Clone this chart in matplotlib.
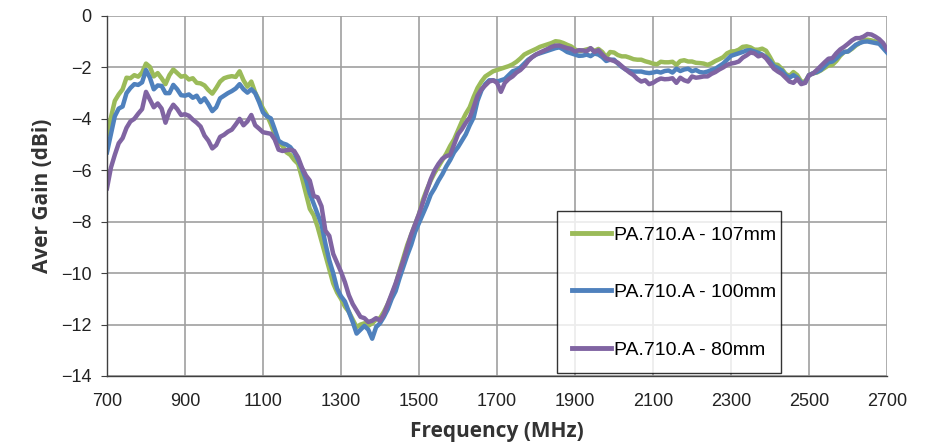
import matplotlib
matplotlib.use("Agg")
import matplotlib.pyplot as plt

freq = list(range(700, 2701, 10))

gain_107 = [
    # 700-1100
    -4.6, -3.95, -3.3, -3.05, -2.85, -2.4, -2.42, -2.3, -2.36, -2.2,
    -1.85, -1.98, -2.35, -2.22, -2.42, -2.65, -2.3, -2.08, -2.22, -2.36,
    -2.33, -2.47, -2.42, -2.6, -2.62, -2.7, -2.88, -3.02, -2.8, -2.55,
    -2.42, -2.37, -2.34, -2.37, -2.15, -2.5, -2.75, -2.55, -2.98, -3.28,
    -3.6,
    # 1110-1880
    -3.85, -4.2, -4.6, -4.9, -5.05, -5.3, -5.4, -5.6, -5.75, -6.3,
    -6.9, -7.5, -7.75, -8.2, -8.75, -9.3, -9.85, -10.4, -10.75, -11.0,
    -11.3, -11.5, -11.8, -12.1, -12.0, -11.95, -12.05, -11.95, -11.8, -11.75,
    -11.5, -11.2, -10.85, -10.45, -9.9, -9.4, -8.9, -8.5, -8.1, -7.7,
    -7.15, -6.75, -6.4, -6.1, -5.85, -5.6, -5.35, -5.05, -4.8, -4.45,
    -4.1, -3.8, -3.55, -3.15, -2.8, -2.55, -2.35, -2.25, -2.15, -2.1,
    -2.05, -2.0, -1.95, -1.88, -1.78, -1.65, -1.5, -1.42, -1.35, -1.28,
    -1.2, -1.15, -1.1, -1.05, -0.98, -1.0, -1.05, -1.12,
    # 1890-2300
    -1.18, -1.3, -1.37, -1.34, -1.3, -1.26, -1.36, -1.28, -1.4, -1.6,
    -1.4, -1.42, -1.52, -1.57, -1.57, -1.62, -1.68, -1.7, -1.7, -1.76,
    -1.8, -1.85, -1.88, -1.78, -1.8, -1.8, -1.78, -1.9, -1.75, -1.72,
    -1.77, -1.77, -1.82, -1.83, -1.85, -1.9, -1.84, -1.75, -1.68, -1.6,
    -1.45, -1.38,
    # 2310-2700
    -1.37, -1.31, -1.2, -1.18, -1.22, -1.31, -1.31, -1.27, -1.35, -1.6,
    -1.88, -1.9, -2.05, -2.25, -2.33, -2.18, -2.3, -2.55, -2.55, -2.3,
    -2.23, -2.2, -2.12, -2.02, -1.92, -1.9, -1.75, -1.55, -1.4, -1.38,
    -1.28, -1.15, -1.05, -0.95, -0.92, -0.95, -0.99, -0.99, -1.15, -1.3,
]

gain_100 = [
    # 700-1100
    -5.3, -4.6, -3.9, -3.6, -3.52, -3.0, -2.8, -2.65, -2.68, -2.58,
    -2.1, -2.4, -2.85, -2.7, -2.72, -3.0, -3.0, -2.68, -2.85, -3.08,
    -3.1, -3.05, -3.18, -3.1, -3.35, -3.2, -3.43, -3.7, -3.55, -3.2,
    -3.1, -3.0, -2.92, -2.82, -2.65, -2.85, -2.98, -2.85, -3.0, -3.35,
    -3.75,
    # 1110-1880
    -3.9, -3.98, -4.4, -4.85, -4.95, -5.0, -5.1, -5.3, -5.6, -5.95,
    -6.35, -6.9, -7.3, -7.7, -8.1, -8.85, -9.5, -10.0, -10.6, -10.9,
    -11.1, -11.5, -11.9, -12.35, -12.2, -12.05, -12.2, -12.55, -12.1, -11.95,
    -11.7, -11.4, -11.0, -10.7, -10.2, -9.75, -9.3, -8.9, -8.4, -8.05,
    -7.7, -7.35, -6.95, -6.7, -6.4, -6.15, -5.85, -5.6, -5.3, -5.1,
    -4.85, -4.6, -4.25, -3.95, -3.3, -2.9, -2.65, -2.5, -2.5, -2.55,
    -2.5, -2.45, -2.3, -2.15, -2.1, -2.0, -1.85, -1.7, -1.6, -1.5,
    -1.45, -1.4, -1.35, -1.3, -1.25, -1.22, -1.3, -1.4,
    # 1890-2300
    -1.45, -1.5, -1.55, -1.54, -1.5, -1.56, -1.46, -1.5, -1.6, -1.75,
    -1.7, -1.7, -1.85, -1.98, -2.08, -2.14, -2.16, -2.16, -2.16, -2.2,
    -2.22, -2.2, -2.16, -2.2, -2.14, -2.12, -2.2, -2.05, -2.14, -2.08,
    -2.05, -2.15, -2.1, -2.18, -2.2, -2.16, -2.1, -2.05, -1.95, -1.85,
    -1.7, -1.55,
    # 2310-2700
    -1.5, -1.45, -1.4, -1.34, -1.33, -1.38, -1.43, -1.5, -1.6, -1.75,
    -1.95, -2.02, -2.12, -2.3, -2.4, -2.3, -2.4, -2.6, -2.6, -2.3,
    -2.23, -2.18, -2.1, -1.95, -1.8, -1.77, -1.65, -1.5, -1.4, -1.38,
    -1.25, -1.12, -1.05, -1.0, -0.99, -1.02, -1.05, -1.08, -1.25, -1.42,
]

gain_80 = [
    # 700-1100
    -6.7, -5.9, -5.4, -4.95, -4.75, -4.35, -4.1, -4.0, -3.8, -3.62,
    -2.95, -3.25, -3.55, -3.4, -3.6, -4.15, -3.7, -3.45, -3.62, -3.85,
    -3.82, -3.88, -4.03, -4.15, -4.3, -4.65, -4.85, -5.15, -5.02, -4.7,
    -4.62, -4.5, -4.42, -4.22, -4.0, -4.25, -4.1, -3.85, -4.25, -4.38,
    -4.52,
    # 1110-1880
    -4.55, -4.58, -4.8, -5.2, -5.25, -5.22, -5.2, -5.25, -5.5, -5.9,
    -6.2, -6.4, -7.0, -7.05, -7.4, -8.35, -8.55, -9.25, -9.6, -9.95,
    -10.35, -10.85, -11.2, -11.45, -11.7, -11.75, -11.9, -11.85, -11.75, -11.85,
    -11.6, -11.2, -10.8, -10.4, -9.95, -9.5, -9.0, -8.5, -8.1, -7.7,
    -7.25, -6.8, -6.35, -6.0, -5.75, -5.55, -5.45, -5.4, -5.0, -4.6,
    -4.4, -4.15, -3.95, -3.55, -3.1, -2.85, -2.7, -2.55, -2.5, -2.6,
    -2.95, -2.6, -2.45, -2.35, -2.2, -2.1, -1.95, -1.75, -1.6, -1.5,
    -1.42, -1.35, -1.28, -1.2, -1.15, -1.15, -1.2, -1.25,
    # 1890-2300
    -1.28, -1.38, -1.33, -1.34, -1.37, -1.25, -1.4, -1.33, -1.5, -1.65,
    -1.7, -1.75, -1.82, -1.95, -2.08, -2.2, -2.3, -2.45, -2.55, -2.5,
    -2.65, -2.6, -2.5, -2.43, -2.46, -2.45, -2.42, -2.6, -2.4, -2.5,
    -2.55, -2.35, -2.4, -2.38, -2.35, -2.35, -2.25, -2.18, -2.08, -2.0,
    -1.9, -1.85,
    # 2310-2700
    -1.82, -1.77, -1.62, -1.53, -1.42, -1.45, -1.57, -1.52, -1.65, -1.85,
    -2.05, -2.16, -2.25, -2.4, -2.55, -2.6, -2.45, -2.65, -2.6, -2.3,
    -2.24, -2.1, -1.95, -1.8, -1.66, -1.64, -1.45, -1.3, -1.2, -1.08,
    -0.95, -0.86, -0.86, -0.8, -0.7, -0.72, -0.8, -0.9, -1.05, -1.3,
]

labels = ["PA.710.A - 107mm", "PA.710.A - 100mm", "PA.710.A - 80mm"]
colors = ["#9BBB59", "#4F81BD", "#8064A2"]
xticks = list(range(700, 2701, 200))
yticks = list(range(-14, 1, 2))

fig = plt.figure(figsize=(9.37, 4.44), dpi=100)
ax = fig.add_axes([107/937, 1-376/444, 780/937, 360/444])

for vals, lab, c in zip([gain_107, gain_100, gain_80], labels, colors):
    ax.plot(freq, vals, color=c, lw=3.2, label=lab, solid_joinstyle="round")

ax.set_xlim(700, 2700)
ax.set_ylim(-14, 0)
ax.set_xticks(xticks)
ax.set_yticks(yticks)
ax.grid(True, color="#a0a0a0", lw=1.2)
ax.set_axisbelow(True)
for s in ["top", "right"]:
    ax.spines[s].set_visible(False)
for s in ["left", "bottom"]:
    ax.spines[s].set_color("#404040")
    ax.spines[s].set_linewidth(1.0)

ax.tick_params(axis="y", length=4, color="#404040", pad=7)
ax.tick_params(axis="x", length=0, pad=12)
for t in ax.get_xticklabels() + ax.get_yticklabels():
    t.set_fontfamily("Liberation Sans")
    t.set_fontsize(13)
    t.set_color("#222222")

ax.set_xlabel("Frequency (MHz)", family="Open Sans", fontweight="bold",
              fontsize=15, color="#333333", labelpad=8)
ax.set_ylabel("Aver Gain (dBi)", family="Open Sans", fontweight="bold",
              fontsize=15, color="#333333", labelpad=6)

leg = ax.legend(loc="lower left", bbox_to_anchor=(0.577, 0.008, 0.287, 0.447),
                mode="expand", frameon=True, fancybox=False,
                prop=dict(family="Liberation Sans", size=14),
                handlelength=2.0, handletextpad=0.2, labelspacing=2.05,
                borderpad=0.75, borderaxespad=0)
leg.get_frame().set_edgecolor("black")
leg.get_frame().set_linewidth(1.0)
for l in leg.get_lines():
    l.set_linewidth(3.5)

fig.savefig("out.png", dpi=100)
